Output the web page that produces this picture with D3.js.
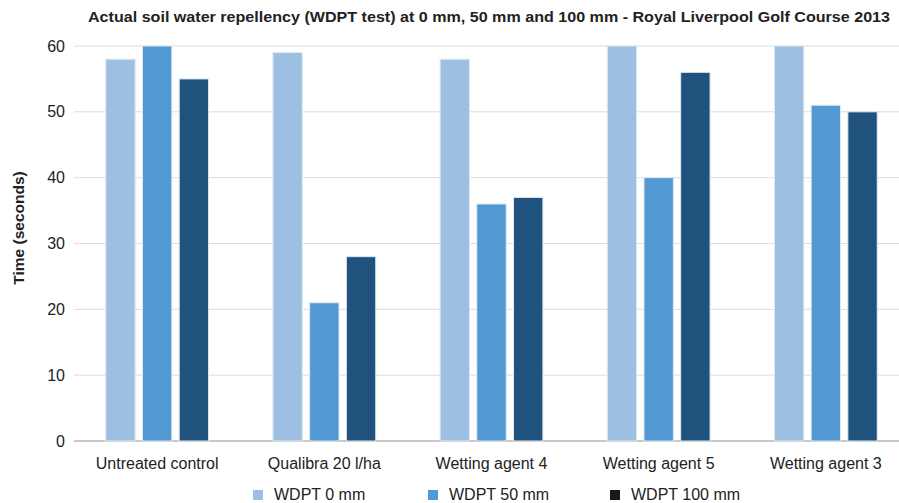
<!DOCTYPE html>
<html lang="en">
<head>
<meta charset="utf-8">
<title>WDPT test</title>
<script src="https://d3js.org/d3.v7.min.js"></script>
<style>
  body { margin: 0; background: #fff; }
  text { font-family: "Liberation Sans", Arial, sans-serif; fill: #222; }
</style>
</head>
<body>
<script>
var categories = ["Untreated control", "Qualibra 20 l/ha", "Wetting agent 4", "Wetting agent 5", "Wetting agent 3"];
var seriesNames = ["WDPT 0 mm", "WDPT 50 mm", "WDPT 100 mm"];
var wdpt0 = [58, 59, 58, 60, 60];
var wdpt50 = [60, 21, 36, 40, 51];
var wdpt100 = [55, 28, 37, 56, 50];
var yTicks = [0, 10, 20, 30, 40, 50, 60];

var colors = ["#9dbfe1", "#5299d3", "#1f527c"];
var legendColors = ["#9dbfe1", "#5299d3", "#1a1a1a"];

var w = 899, h = 503;
var margin = {left: 74, top: 46, bottom: 62};

var svg = d3.select("body").append("svg")
  .attr("width", w)
  .attr("height", h);

var xScale = d3.scaleBand()
  .domain(categories)
  .range([margin.left, margin.left + 5 * 167])
  .paddingInner(0.385)
  .paddingOuter(0.19);

var innerScale = d3.scaleBand()
  .domain(seriesNames)
  .range([0, xScale.bandwidth()])
  .paddingInner(0.2);

var yScale = d3.scaleLinear()
  .domain([0, 60])
  .range([h - margin.bottom, margin.top]);

// gridlines
svg.append("g")
  .selectAll("line")
  .data(yTicks)
  .enter()
  .append("line")
  .attr("x1", margin.left)
  .attr("x2", w)
  .attr("y1", d => yScale(d))
  .attr("y2", d => yScale(d))
  .attr("stroke", d => d === 0 ? "#c8c8c8" : "#dcdcdc")
  .attr("stroke-width", d => d === 0 ? 2 : 1);

// y axis labels
var yAxis = d3.axisLeft(yScale).tickValues(yTicks).tickSize(0).tickPadding(9);
svg.append("g")
  .attr("transform", "translate(" + margin.left + ",0)")
  .call(yAxis)
  .call(g => g.select(".domain").remove())
  .selectAll("text")
  .style("font-size", "16px")
  .attr("fill", "#222")
  .attr("font-family", null);

// bars
var table = categories.map((c, i) => ({cat: c, vals: [wdpt0[i], wdpt50[i], wdpt100[i]]}));

var groups = svg.append("g")
  .selectAll("g")
  .data(table)
  .enter()
  .append("g")
  .attr("transform", d => "translate(" + xScale(d.cat) + ",0)");

groups.selectAll("rect")
  .data(d => d.vals.map((v, j) => ({s: seriesNames[j], v: v, j: j})))
  .enter()
  .append("rect")
  .attr("x", d => innerScale(d.s))
  .attr("width", innerScale.bandwidth())
  .attr("y", d => yScale(d.v))
  .attr("height", d => yScale(0) - yScale(d.v))
  .attr("fill", d => colors[d.j])
  .attr("stroke", "#dfe9f3")
  .attr("stroke-width", 1);

// x axis labels
var xAxis = d3.axisBottom(xScale).tickSize(0).tickPadding(17);
svg.append("g")
  .attr("transform", "translate(0," + yScale(0) + ")")
  .call(xAxis)
  .call(g => g.select(".domain").remove())
  .selectAll("text")
  .style("font-size", "16px")
  .attr("fill", "#222")
  .attr("font-family", null);

// title
svg.append("text")
  .attr("x", 489)
  .attr("y", 22)
  .attr("text-anchor", "middle")
  .attr("textLength", 802)
  .attr("lengthAdjust", "spacingAndGlyphs")
  .style("font-size", "15px")
  .style("font-weight", "bold")
  .text("Actual soil water repellency (WDPT test) at 0 mm, 50 mm and 100 mm - Royal Liverpool Golf Course 2013");

// y title
svg.append("text")
  .attr("transform", "translate(24,228) rotate(-90)")
  .attr("text-anchor", "middle")
  .style("font-size", "15.5px")
  .style("font-weight", "bold")
  .text("Time (seconds)");

// legend
var legendX = [253, 428, 610];
var legend = svg.append("g")
  .selectAll("g")
  .data(seriesNames)
  .enter()
  .append("g")
  .attr("transform", (d, i) => "translate(" + legendX[i] + ",490)");

legend.append("rect")
  .attr("width", 10)
  .attr("height", 10)
  .attr("fill", (d, i) => legendColors[i]);

legend.append("text")
  .attr("x", 21)
  .attr("y", 10)
  .style("font-size", "16px")
  .text(d => d);
</script>
</body>
</html>
